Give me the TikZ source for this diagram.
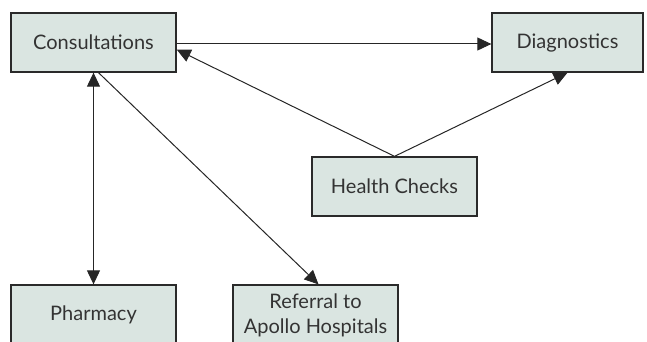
\documentclass[tikz,border=0pt]{standalone}
\usepackage{fontspec}
\setmainfont{Lato}
\usetikzlibrary{arrows.meta,positioning}
\definecolor{boxfill}{HTML}{DAE5E1}
\definecolor{boxline}{HTML}{2A2A2A}
\tikzset{main box/.style={rectangle,fill=boxfill,draw=boxline,line width=1.3pt,minimum width=165pt,minimum height=59pt,inner sep=0pt,font=\fontsize{20}{25}\selectfont,text=black!80,align=center},
         link/.style={draw=black!85,line width=1pt,-{Triangle[length=14pt,width=13pt]}},
         both link/.style={draw=black!85,line width=1pt,{Triangle[length=14pt,width=13pt]}-{Triangle[length=14pt,width=13pt]}},
}

\begin{document}
\begin{tikzpicture}[x=1pt,y=-1pt]

\useasboundingbox (0,0) rectangle (647,342);
\clip (0,0) rectangle (647,342);

\node [main box] (cons) at (93.5,42.5) {Consultations};
\node [main box,minimum width=151pt] (diag) at (567.5,42.5) {Diagnostics};
\node [main box] (health) at (394.5,186.5) {Health Checks};
\node [main box,minimum height=60pt] (pharm) at (93.5,315) {Pharmacy};
\node [main box,minimum height=60pt] (refer) at (315.5,315) {Referral to\\Apollo Hospitals};

\draw[link] ([yshift=-1.5pt]cons.east) -- ([yshift=-1.5pt]diag.west);
\draw[link] (health.north) -- ([yshift=-7pt]cons.east);
\draw[link] (health.north) -- (diag.south);
\draw[both link] (cons.south) -- (pharm.north);
\draw[link] ([xshift=5pt]cons.south) -- ([xshift=3pt]refer.north);
\end{tikzpicture}
\end{document}
